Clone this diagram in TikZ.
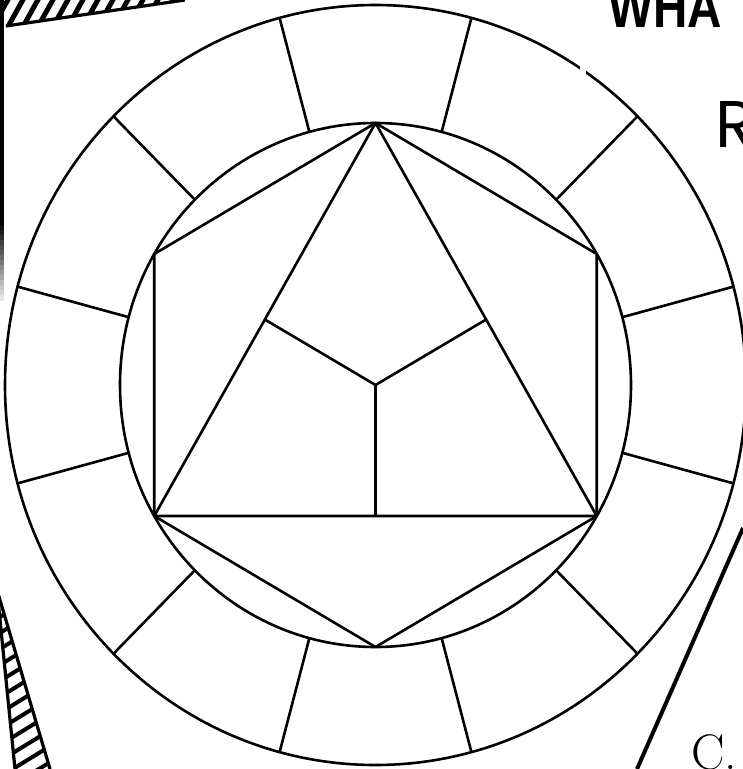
\documentclass[tikz,border=0pt]{standalone}
\usepackage{fontspec}
\newfontfamily\titlefont{Liberation Sans}
\newfontfamily\headfont{Poppins}
\usetikzlibrary{calc}

\tikzset{
  wheel/.style={line width=2.6pt},
  edge/.style={line width=2.6pt, line join=round},
  band/.style={line width=3.2pt},
  stripe/.style={line width=5pt},
}

\begin{document}
\begin{tikzpicture}[x=1pt,y=-1pt]
\useasboundingbox (0,0) rectangle (743,769);
\clip (0,0) rectangle (743,769);

% colour wheel
\coordinate (c) at (375.5,385);
\draw[wheel] (c) ellipse [x radius=370.5, y radius=380];
\draw[wheel] (c) ellipse [x radius=255.5, y radius=262];
\fill[white] (580,64) rectangle (586,77);

\begin{scope}[shift={(c)}]
  % twelve ring sections
  \foreach \a in {15,45,...,345}
    \draw[wheel] (\a:255.5 and 262) -- (\a:370.5 and 380);
  % hexagon corners
  \foreach \a [count=\i] in {30,90,...,330}
    \coordinate (h\i) at (\a:255.5 and 262);
  \coordinate (mid) at (0,0);
\end{scope}

\draw[edge] (h1) -- (h2) -- (h3) -- (h4) -- (h5) -- (h6) -- cycle;
\draw[edge] (h5) -- (h3) -- (h1) -- cycle;
\draw[edge] (mid) -- ($(h3)!0.5!(h1)$);
\draw[edge] (mid) -- ($(h5)!0.5!(h3)$);
\draw[edge] (mid) -- ($(h5)!0.5!(h1)$);

% hatched band, top left
\begin{scope}
  \clip (0,-2) -- (190,-2) -- (185,0) -- (6,26) -- (0,27) -- cycle;
  \foreach \x in {-10,5,...,200}
    \draw[stripe] (\x,32) -- (\x+20,-4);
\end{scope}
\draw[band] (6,26) -- (185,0);
\fill[black] (0,0) rectangle (4,220);
\foreach \i [evaluate=\i as \g using 100-6*\i] in {0,...,15}
  \fill[black!\g] (0,220+5*\i) rectangle (3.5,225.5+5*\i);

% hatched band, bottom left
\begin{scope}
  \clip (-3,590) -- (15,769) -- (50,769) -- cycle;
  \foreach \y in {596,612,...,790}
    \draw[line width=4pt] (-5,\y+8) -- (60,\y-32);
\end{scope}
\draw[band] (-3,590) -- (15,769);
\draw[band] (-3,590) -- (50,769);

% edge stroke, right
\draw[line width=4pt] (743,528) -- (637,769);

% cut-off titles
\node[anchor=base west, inner sep=0, xscale=0.82, font=\titlefont\bfseries\fontsize{58}{58}\selectfont] (what) at (608,27) {WHA};
\node[anchor=base west, inner sep=0, font=\headfont\fontsize{66}{66}\selectfont] (rtitle) at (715,147) {R};
\node[anchor=base west, inner sep=0, font=\fontsize{50}{50}\selectfont] (cname) at (691,769) {C.};
\end{tikzpicture}
\end{document}
